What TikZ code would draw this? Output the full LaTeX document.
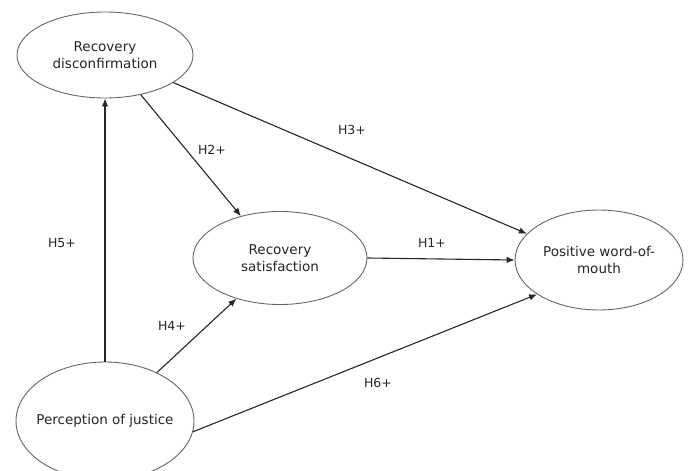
\documentclass[tikz,border=0pt]{standalone}
\usepackage{fontspec}
\setmainfont{DejaVu Sans}
\usetikzlibrary{shapes.geometric,arrows.meta}
\begin{document}
\begin{tikzpicture}[x=1pt,y=-1pt,
  var/.style={ellipse,draw=black!60,line width=0.9pt,fill=white,inner xsep=-20pt,inner ysep=0pt,align=center,font=\fontsize{13.5}{17}\selectfont,text=black!85},
  link/.style={draw=black!85,line width=1.1pt,-{Latex[length=8pt,width=6.5pt]}},
  lab/.style={font=\fontsize{12.5}{14}\selectfont,text=black!85}]
\useasboundingbox (0,0) rectangle (689,471);
\node[var,minimum width=176pt,minimum height=86pt] (rd) at (105,55) {Recovery\\disconfirmation};
\node[var,minimum width=174pt,minimum height=93pt] (rs) at (280,258) {Recovery\\satisfaction};
\node[var,minimum width=168pt,minimum height=100pt] (pw) at (599,260) {Positive word-of-\\mouth};
\node[var,minimum width=178pt,minimum height=118pt] (pj) at (105,421) {Perception of justice};
\draw[link] (pj.north) -- (rd.south);
\draw[link] (rd.-48) -- (rs.133);
\draw[link] (rd.-22) -- (pw.160);
\draw[link] (rs.east) -- (pw.west);
\draw[link] (pj.43) -- (rs.-137);
\draw[link] (pj.-7) -- (pw.-151);
\node[lab] (l3) at (352,130) {H3+};
\node[lab] (l2) at (212,150) {H2+};
\node[lab] (l5) at (62,243) {H5+};
\node[lab] (l1) at (432,243) {H1+};
\node[lab] (l4) at (172,326) {H4+};
\node[lab] (l6) at (378,383) {H6+};
\end{tikzpicture}
\end{document}
